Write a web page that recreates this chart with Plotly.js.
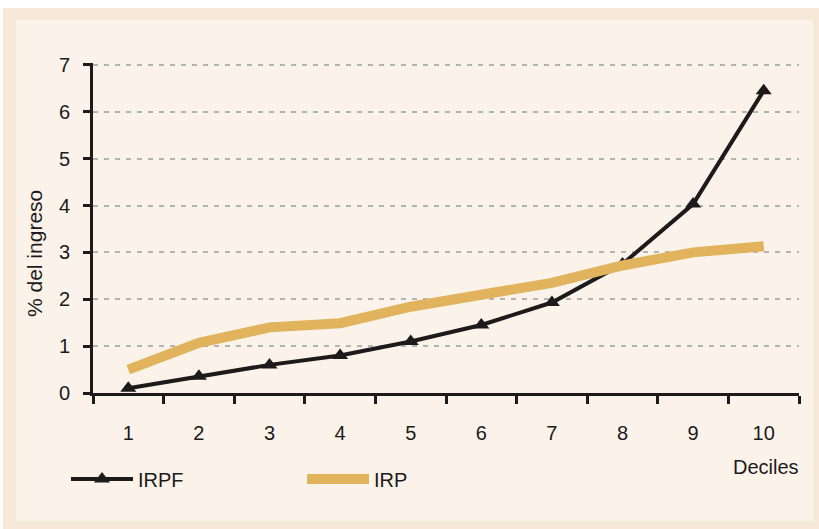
<!DOCTYPE html>
<html>
<head>
<meta charset="utf-8">
<script src="https://cdn.plot.ly/plotly-3.0.1.min.js"></script>
<style>html,body{margin:0;padding:0;background:#fff;}#chart{width:819px;height:529px;}</style>
</head>
<body>
<div id="chart"></div>
<script>
const deciles = ['1','2','3','4','5','6','7','8','9','10'];
const irpf = [0.1, 0.36, 0.6, 0.8, 1.1, 1.45, 1.93, 2.75, 4.03, 6.45];
const irp = [0.5, 1.07, 1.4, 1.49, 1.84, 2.1, 2.35, 2.72, 3.0, 3.13];
const yTicks = [0, 1, 2, 3, 4, 5, 6, 7];

const W = 819, H = 529;
const yMax = 7.04;
const unit = 328 / 7;
const L = 93, R = 20, B = 136;
const T = Math.round(H - B - yMax * unit);
const pw = W - L - R, ph = H - T - B;
const px = x => (x - L) / pw;
const py = y => (H - B - y) / ph;

const traces = [
  {
    x: deciles, y: irpf, name: 'IRPF', type: 'scatter', mode: 'lines+markers',
    line: {color: '#1c1a1b', width: 4},
    marker: {symbol: 'triangle-up', size: 14, color: '#1c1a1b'}
  },
  {
    x: deciles, y: irp, name: 'IRP', type: 'scatter', mode: 'lines',
    line: {color: '#e0b35c', width: 10}
  }
];

const fontFam = 'Liberation Sans, Arial, sans-serif';
const FS = 20;
const layout = {
  width: W, height: H,
  margin: {l: L, r: R, t: T, b: B},
  paper_bgcolor: '#ffffff',
  plot_bgcolor: 'rgba(0,0,0,0)',
  font: {family: fontFam, size: FS, color: '#1c1a1b'},
  showlegend: true,
  legend: {
    orientation: 'h', x: px(66), y: py(479), xanchor: 'left', yanchor: 'middle',
    entrywidth: 159, entrywidthmode: 'pixels', itemwidth: 62, bgcolor: 'rgba(0,0,0,0)',
    font: {family: fontFam, size: FS, color: '#1c1a1b'}
  },
  xaxis: {
    type: 'category', range: [-0.5, 9.5], tickson: 'boundaries', ticks: 'outside', ticklen: 8, tickwidth: 3,
    tickcolor: '#1c1a1b', showline: true, linecolor: '#1c1a1b', linewidth: 3,
    showgrid: false, zeroline: false, ticklabelstandoff: 20,
    tickfont: {family: fontFam, size: FS, color: '#1c1a1b'}
  },
  yaxis: {
    range: [0, yMax], tickvals: yTicks, ticks: 'outside', ticklen: 7, tickwidth: 3,
    tickcolor: '#1c1a1b', showline: true, linecolor: '#1c1a1b', linewidth: 3,
    showgrid: true, gridcolor: '#b3b3b3', gridwidth: 2, griddash: '5px,6px',
    zeroline: false, ticklabelstandoff: 9,
    tickfont: {family: fontFam, size: FS, color: '#1c1a1b'}
  },
  shapes: [
    {type: 'rect', xref: 'paper', yref: 'paper', layer: 'below',
     x0: px(3), x1: px(819), y0: py(8), y1: py(529),
     fillcolor: '#f6e9d7', line: {width: 0}},
    {type: 'rect', xref: 'paper', yref: 'paper', layer: 'below',
     x0: px(16), x1: px(813), y0: py(20), y1: py(521),
     fillcolor: '#fbf3e9', line: {width: 0}}
  ],
  annotations: [
    {text: 'Deciles', xref: 'paper', yref: 'paper', x: px(801), y: py(467),
     xanchor: 'right', yanchor: 'middle', showarrow: false,
     font: {family: fontFam, size: FS, color: '#1c1a1b'}},
    {text: '% del ingreso', xref: 'paper', yref: 'paper', x: px(35), y: py(253),
     xanchor: 'center', yanchor: 'middle', textangle: -90, showarrow: false,
     font: {family: fontFam, size: FS + 1, color: '#1c1a1b'}}
  ]
};

Plotly.newPlot('chart', traces, layout, {displayModeBar: false, staticPlot: true});
</script>
</body>
</html>
